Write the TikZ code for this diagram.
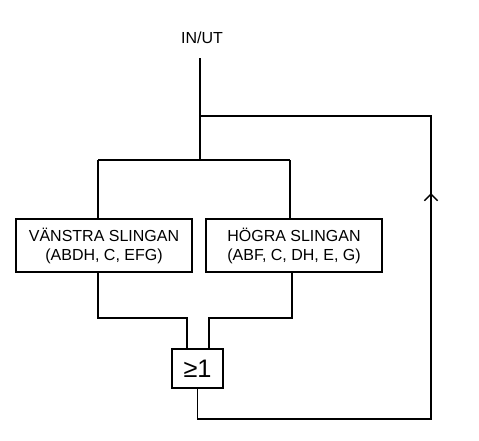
\documentclass[tikz,border=0pt]{standalone}
\usepackage{fontspec}
\setmainfont{Liberation Sans}
\usepackage{tikz}
\usetikzlibrary{arrows.meta,calc}
\tikzset{
  wire/.style={draw=black,line width=1.3pt},
  loopbox/.style={draw=black,line width=1.3pt,fill=white,minimum width=132pt,minimum height=39.75pt,
    align=center,font=\fontsize{12}{14.25}\selectfont,inner sep=2pt},
  orbox/.style={draw=black,line width=1.3pt,fill=white,minimum width=38.25pt,minimum height=29.25pt,
    inner sep=1pt,font=\fontsize{19}{22}\selectfont},
}
\tikzset{lab/.style={font=\fontsize{12}{14}\selectfont,inner sep=0pt},uparrow/.style={wire,-{Straight Barb[length=5pt,width=10pt,line width=1.1pt]}}}

\begin{document}
\begin{tikzpicture}[x=0.75pt,y=-0.75pt]
\useasboundingbox (0,0) rectangle (479,440);
\node[lab] (io) at (202,38) {IN/UT};
\coordinate (in) at (200,58);
\coordinate (fb) at (200,116);
\coordinate (split) at (200,160);
\coordinate (lfork) at (98,160);
\coordinate (rfork) at (290,160);
\coordinate (ljoin) at (98,318);
\coordinate (rjoin) at (292,318);
\coordinate (bot) at (431,419);
\coordinate (tip) at (431,193);
\coordinate (top) at (431,116);
\node[loopbox] (left) at (104,245.5) {VÄNSTRA SLINGAN\\(ABDH, C, EFG)};
\node[loopbox] (right) at (294,245.5) {HÖGRA SLINGAN\\(ABF, C, DH, E, G)};
\node[orbox] (or) at (197.5,368.5) {≥1};
% in/out and fork
\draw[wire] (in) -- (split);
\draw[wire] (lfork) -- (rfork);
\draw[wire] (lfork) -- (lfork |- left.north);
\draw[wire] (rfork) -- (rfork |- right.north);
% down to the or gate
\draw[wire] (ljoin |- left.south) -- (ljoin) -| ($(or.north)+(-10.5,0)$);
\draw[wire] (rjoin |- right.south) -- (rjoin) -| ($(or.north)+(11.5,0)$);
% feedback
\draw[wire] (or.south) |- (bot) -- (top) -- (fb);
\draw[uparrow] (bot) -- (tip);
\end{tikzpicture}
\end{document}
